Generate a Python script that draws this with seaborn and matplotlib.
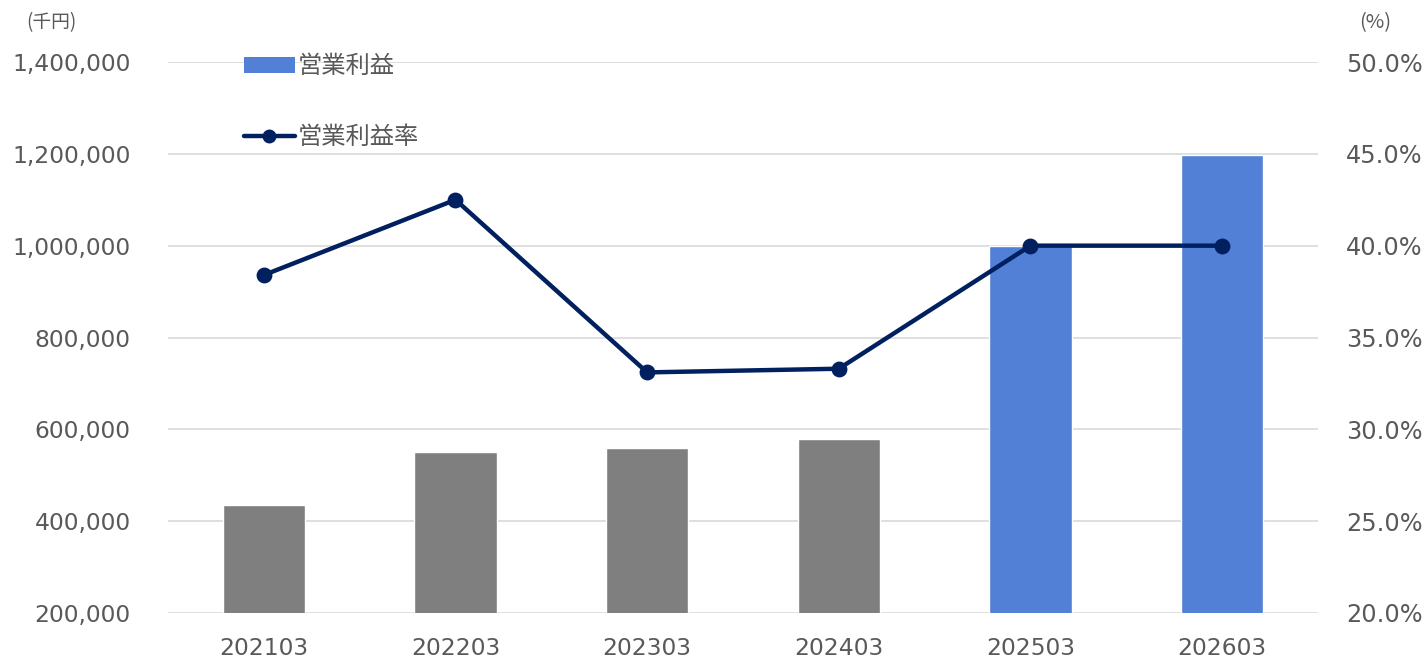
import matplotlib
matplotlib.use("Agg")
import matplotlib.pyplot as plt
import seaborn as sns
import pandas as pd
from matplotlib.patches import Patch
from matplotlib.lines import Line2D
from matplotlib.ticker import FuncFormatter

categories = ["202103", "202203", "202303", "202403", "202503", "202603"]
profit = [435000, 550000, 560000, 580000, 1000000, 1198000]
margin = [38.4, 42.5, 33.1, 33.3, 40.0, 40.0]
bar_colors = ["#7F7F7F", "#7F7F7F", "#7F7F7F", "#7F7F7F", "#5180D6", "#5180D6"]
left_ticks = [200000, 400000, 600000, 800000, 1000000, 1200000, 1400000]
right_ticks = [20, 25, 30, 35, 40, 45, 50]

sns.set_theme(style="white")
plt.rcParams["font.family"] = ["DejaVu Sans", "Noto Sans CJK JP"]

df = pd.DataFrame({"cat": categories, "profit": profit, "margin": margin})

fig = plt.figure(figsize=(14.24, 6.57), dpi=100)
ax = fig.add_axes([168/1424, 1-613/657, 1150/1424, 551/657])

sns.barplot(data=df, x="cat", y="profit", hue="cat", palette=bar_colors,
            legend=False, width=0.43, ax=ax, saturation=1, zorder=2)
ax.set_ylim(200000, 1400000)
ax.set_xlim(-0.5, 5.5)
ax.set_yticks(left_ticks)
ax.yaxis.set_major_formatter(FuncFormatter(lambda v, p: f"{int(v):,}"))
ax.grid(axis="y", color="#D9D9D9", linewidth=1.2, zorder=0)
ax.set_axisbelow(True)
ax.set_xlabel("")
ax.set_ylabel("")
for s in ax.spines.values():
    s.set_visible(False)
ax.tick_params(axis="y", length=0, pad=27, labelsize=16.8, labelcolor="#595959")
ax.tick_params(axis="x", length=0, pad=17, labelsize=16.8, labelcolor="#595959")

ax2 = ax.twinx()
sns.pointplot(data=df, x="cat", y="margin", color="#002060", markers="o",
              linestyles="-", markersize=9, linewidth=3.2, ax=ax2, zorder=3)
ax2.set_ylim(20, 50)
ax2.set_xlim(-0.5, 5.5)
ax2.set_yticks(right_ticks)
ax2.yaxis.set_major_formatter(FuncFormatter(lambda v, p: f"{v:.1f}%"))
ax2.set_ylabel("")
ax2.set_xlabel("")
for s in ax2.spines.values():
    s.set_visible(False)
ax2.tick_params(axis="y", length=0, pad=20, labelsize=17.3, labelcolor="#595959")
ax2.grid(False)

handles = [
    Patch(facecolor="#5180D6", edgecolor="none"),
    Line2D([0], [0], color="#002060", linewidth=3.2, marker="o", markersize=9),
]
leg = ax.legend(handles, ["営業利益", "営業利益率"], loc="upper left",
                bbox_to_anchor=(0.066, 1.016), frameon=False, borderpad=0,
                borderaxespad=0, labelspacing=1.85, handlelength=2.1,
                handletextpad=0.12, handleheight=0.62,
                prop={"family": ["Noto Sans CJK JP"], "size": 17.5})
for t in leg.get_texts():
    t.set_color("#595959")

fig.text(51/1424, 1-23/657, "(千円)", ha="center", va="center", fontsize=13.5,
         color="#595959", family=["Noto Sans CJK JP"])
fig.text(1375/1424, 1-23/657, "(%)", ha="center", va="center", fontsize=14.5,
         color="#595959", family=["Noto Sans CJK JP"])

fig.savefig("out.png", dpi=100)
